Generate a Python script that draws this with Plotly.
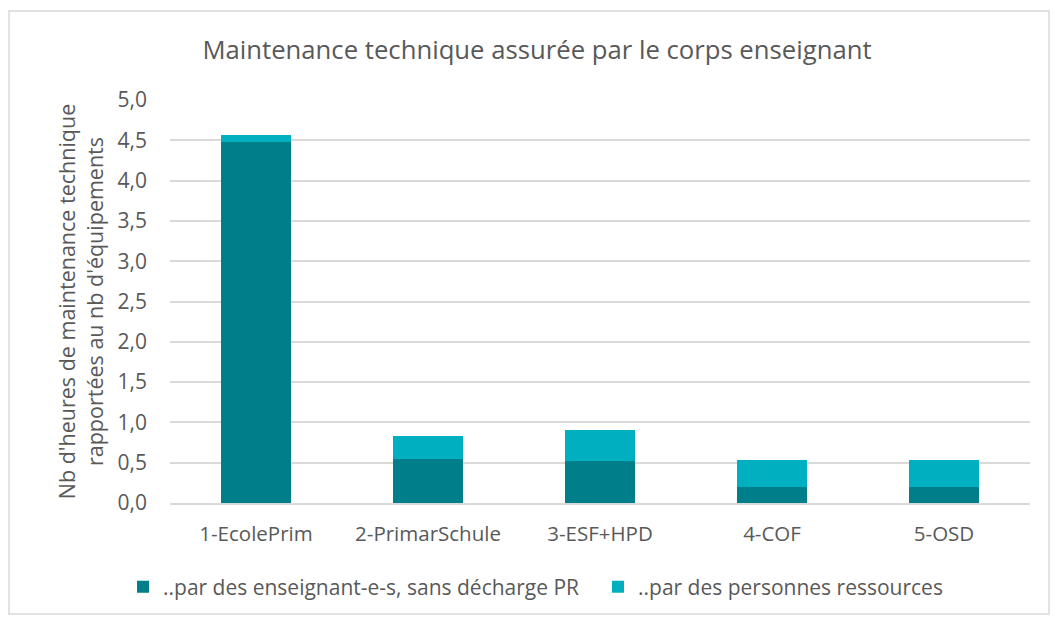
import plotly.graph_objects as go

categories = ["1-EcolePrim", "2-PrimarSchule", "3-ESF+HPD", "4-COF", "5-OSD"]
enseignants = [4.48, 0.55, 0.525, 0.20, 0.20]
ressources = [0.09, 0.28, 0.375, 0.33, 0.33]
series_names = ["..par des enseignant-e-s, sans décharge PR", "..par des personnes ressources"]
colors = ["#007E8A", "#00B0C0"]

fig = go.Figure()
fig.add_trace(go.Bar(x=categories, y=enseignants, name=series_names[0],
                     marker=dict(color=colors[0], line=dict(width=0)), legend="legend"))
fig.add_trace(go.Bar(x=categories, y=ressources, name=series_names[1],
                     marker=dict(color=colors[1], line=dict(width=0)), legend="legend2"))

OFF = 8  # page body margin
W, H = 1058, 621
L, T = 170 - OFF, 100 - OFF
R = W - (1030 - OFF)
B = H - (503 - OFF)
pw, ph = W - L - R, H - T - B
bottom = H - B
leg_y = -(587 - OFF - bottom) / ph
leg_common = dict(orientation="h", xanchor="left", y=leg_y, yanchor="middle",
                  font=dict(size=21, color="#595959"), itemwidth=30,
                  bgcolor="rgba(0,0,0,0)")

fig.update_layout(
    barmode="stack",
    bargap=0.595,
    width=W, height=H,
    margin=dict(l=L, r=R, t=T, b=B),
    paper_bgcolor="white", plot_bgcolor="white",
    separators=", ",
    font=dict(family="Open Sans, Lato, sans-serif", color="#595959", size=20),
    title=dict(text="Maintenance technique assurée par le corps enseignant",
               x=(537 - OFF) / W, xanchor="center", y=1 - (50 - OFF) / H, yanchor="middle",
               font=dict(size=25.7, color="#595959")),
    showlegend=True,
    legend=dict(x=(123 - OFF - L) / pw, **leg_common),
    legend2=dict(x=(598 - OFF - L) / pw, **leg_common),
    yaxis=dict(range=[0, 5], dtick=0.5, tickformat=".1f", showgrid=True,
               gridcolor="#D9D9D9", gridwidth=1.5, zeroline=False, showline=False,
               ticks="", ticklabelstandoff=22, tickfont=dict(size=21),
               title=dict(text="Nb d'heures de maintenance technique<br>rapportées au nb d'équipements",
                          font=dict(size=21.5, color="#595959"), standoff=8)),
    xaxis=dict(showline=True, linecolor="#D9D9D9", linewidth=1.5, ticks="",
               ticklabelstandoff=12,
               tickfont=dict(size=20.5, color="#595959")),
)

fig.add_shape(type="rect", xref="paper", yref="paper",
              x0=(9 - OFF - L) / pw, x1=(1049 - OFF - L) / pw,
              y0=-(614 - OFF - bottom) / ph, y1=(bottom - (11 - OFF)) / ph,
              line=dict(color="#D9D9D9", width=1.5), fillcolor="rgba(0,0,0,0)", layer="below")

fig.write_html("out.html")
